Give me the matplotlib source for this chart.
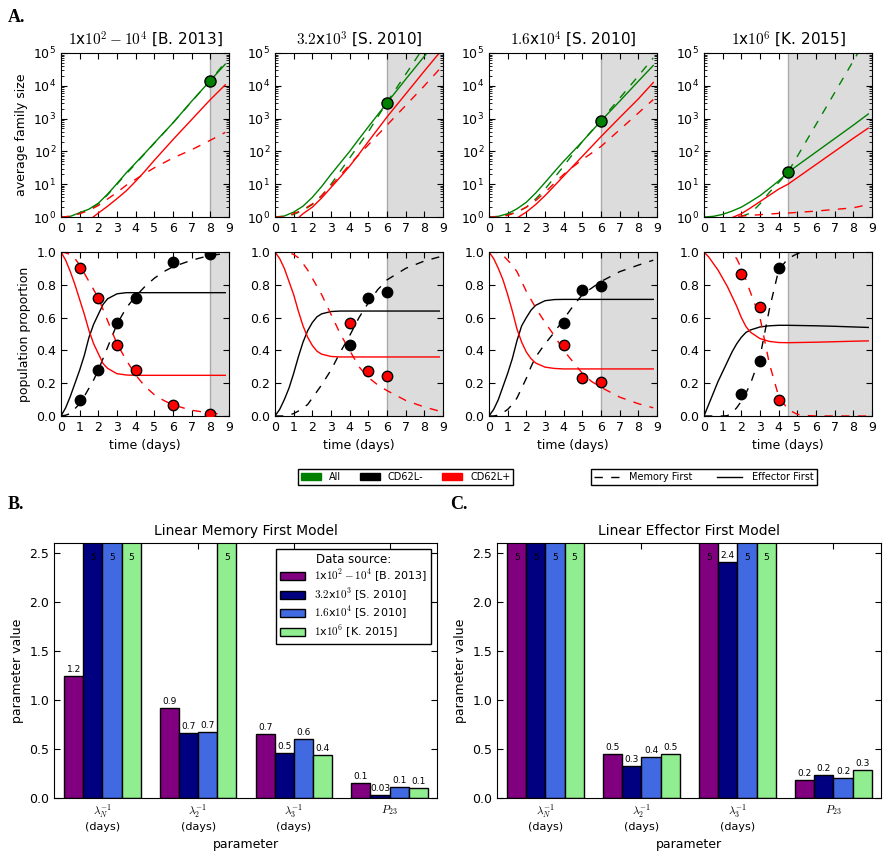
import numpy as np
import matplotlib
matplotlib.use('Agg')
import matplotlib.pyplot as plt
from matplotlib.patches import Patch
from matplotlib.lines import Line2D
from matplotlib.ticker import LogLocator

plt.rcParams.update({
    'font.size': 9,
    'mathtext.fontset': 'cm',
    'xtick.direction': 'in', 'ytick.direction': 'in',
    'xtick.top': True, 'ytick.right': True,
    'xtick.major.size': 4, 'ytick.major.size': 4,
    'xtick.minor.size': 2, 'ytick.minor.size': 2,
    'xtick.labelsize': 9, 'ytick.labelsize': 9,
    'legend.fancybox': False, 'legend.edgecolor': 'black', 'legend.framealpha': 1,
})

sources = [r'$1$x$10^2-10^4$ [B. 2013]', r'$3.2$x$10^3$ [S. 2010]',
           r'$1.6$x$10^4$ [S. 2010]', r'$1$x$10^6$ [K. 2015]']
shade_from = [8, 6, 6, 4.5]

# top row: log10 of average family size
t_top = [0, 0.5, 1, 1.5, 2, 2.5, 3, 3.5, 4, 4.5, 5, 6, 7, 8, 8.8]
all_eff = [
    [0, 0.02, 0.13, 0.24, 0.42, 0.7, 1.02, 1.35, 1.65, 1.95, 2.26, 2.87, 3.53, 4.16, 4.66],
    [0, 0.03, 0.15, 0.33, 0.6, 0.93, 1.3, 1.65, 2.0, 2.38, 2.75, 3.48, 4.2, 4.9, 5.5],
    [0, 0.02, 0.1, 0.25, 0.45, 0.73, 1.05, 1.38, 1.7, 2.0, 2.3, 2.93, 3.53, 4.14, 4.62],
    [0, 0.02, 0.08, 0.18, 0.3, 0.47, 0.65, 0.87, 1.1, 1.36, 1.57, 1.98, 2.39, 2.8, 3.14],
]
all_mem = [
    [0, 0.01, 0.12, 0.22, 0.4, 0.68, 1.0, 1.32, 1.62, 1.94, 2.25, 2.87, 3.52, 4.16, 4.72],
    [0, 0, 0.08, 0.2, 0.38, 0.65, 1.0, 1.4, 1.8, 2.2, 2.6, 3.5, 4.35, 5.2, 5.9],
    [0, 0, 0.07, 0.15, 0.3, 0.55, 0.85, 1.2, 1.55, 1.93, 2.3, 2.95, 3.62, 4.3, 4.85],
    [-1, -0.8, -0.5, -0.2, 0.02, 0.12, 0.4, 0.75, 1.05, 1.37, 1.85, 2.82, 3.79, 4.76, 5.54],
]
plus_eff = [
    [-1, -0.8, -0.55, -0.1, 0.12, 0.33, 0.56, 0.8, 1.09, 1.4, 1.73, 2.36, 2.97, 3.58, 4.03],
    [-1, -0.6, -0.15, 0.1, 0.3, 0.58, 0.9, 1.22, 1.55, 1.92, 2.3, 3.05, 3.75, 4.45, 5.0],
    [-1, -0.7, -0.3, -0.03, 0.15, 0.38, 0.65, 0.95, 1.25, 1.55, 1.85, 2.45, 3.03, 3.6, 4.1],
    [-1, -0.6, -0.3, -0.02, 0.1, 0.28, 0.47, 0.66, 0.85, 1.0, 1.2, 1.6, 2.0, 2.4, 2.71],
]
plus_mem = [
    [0, 0.02, 0.1, 0.2, 0.35, 0.55, 0.75, 0.97, 1.15, 1.33, 1.5, 1.8, 2.05, 2.34, 2.58],
    [0, 0, 0.1, 0.22, 0.4, 0.65, 0.95, 1.27, 1.6, 1.9, 2.2, 2.8, 3.4, 4.0, 4.5],
    [0, 0, 0.05, 0.15, 0.3, 0.5, 0.75, 1.03, 1.3, 1.53, 1.75, 2.15, 2.66, 3.17, 3.58],
    [-1, -0.5, -0.2, 0.0, 0.03, 0.05, 0.07, 0.09, 0.11, 0.12, 0.14, 0.18, 0.23, 0.28, 0.38],
]
fit_day = [8, 6, 6, 4.5]
fit_size = [14500, 3000, 850, 23]

# bottom row: population proportions
t_bot = [0, 0.25, 0.5, 0.75, 1, 1.25, 1.5, 1.75, 2, 2.25, 2.5, 3, 3.5, 4, 4.5, 5, 5.5, 6, 7, 8, 8.8]
minus_eff = [
    [0, 0.05, 0.12, 0.2, 0.28, 0.37, 0.48, 0.56, 0.62, 0.68, 0.715, 0.745, 0.752, 0.752, 0.752,
     0.752, 0.752, 0.752, 0.752, 0.752, 0.752],
    [0, 0.04, 0.1, 0.17, 0.26, 0.36, 0.45, 0.52, 0.57, 0.605, 0.623, 0.637, 0.64, 0.64, 0.64,
     0.64, 0.64, 0.64, 0.64, 0.64, 0.64],
    [0, 0.04, 0.1, 0.18, 0.26, 0.35, 0.46, 0.55, 0.6, 0.645, 0.675, 0.703, 0.71, 0.711, 0.711,
     0.711, 0.711, 0.711, 0.711, 0.711, 0.711],
    [0, 0.07, 0.14, 0.21, 0.27, 0.33, 0.39, 0.44, 0.48, 0.51, 0.525, 0.543, 0.55, 0.553, 0.553,
     0.552, 0.551, 0.55, 0.547, 0.543, 0.54],
]
pos_eff = [
    [1, 0.95, 0.88, 0.8, 0.71, 0.62, 0.52, 0.44, 0.38, 0.32, 0.29, 0.258, 0.25, 0.248, 0.248,
     0.248, 0.248, 0.248, 0.248, 0.248, 0.248],
    [1, 0.96, 0.9, 0.82, 0.74, 0.64, 0.55, 0.48, 0.43, 0.395, 0.377, 0.363, 0.36, 0.36, 0.36,
     0.36, 0.36, 0.36, 0.36, 0.36, 0.36],
    [1, 0.96, 0.9, 0.83, 0.74, 0.64, 0.53, 0.45, 0.39, 0.35, 0.323, 0.298, 0.29, 0.287, 0.287,
     0.287, 0.287, 0.287, 0.287, 0.287, 0.287],
    [1, 0.97, 0.93, 0.89, 0.84, 0.79, 0.73, 0.67, 0.6, 0.545, 0.51, 0.472, 0.455, 0.448, 0.447,
     0.448, 0.449, 0.45, 0.453, 0.456, 0.458],
]
minus_mem = [
    [0, 0.005, 0.015, 0.045, 0.075, 0.12, 0.17, 0.22, 0.28, 0.35, 0.42, 0.56, 0.66, 0.73, 0.79,
     0.84, 0.88, 0.91, 0.95, 0.98, 0.99],
    [0, 0, 0, 0.005, 0.015, 0.03, 0.05, 0.07, 0.11, 0.15, 0.19, 0.28, 0.39, 0.49, 0.6,
     0.69, 0.77, 0.83, 0.9, 0.945, 0.97],
    [0, 0, 0.005, 0.02, 0.04, 0.07, 0.11, 0.17, 0.23, 0.3, 0.36, 0.44, 0.51, 0.59, 0.67,
     0.74, 0.78, 0.82, 0.88, 0.92, 0.95],
    [0, 0, 0, 0, 0, 0.002, 0.02, 0.05, 0.09, 0.14, 0.2, 0.36, 0.65, 0.89, 0.96,
     0.99, 1.0, 1.0, 1.0, 1.0, 1.0],
]
pos_mem = [
    [1, 0.995, 0.985, 0.96, 0.92, 0.87, 0.82, 0.77, 0.72, 0.65, 0.58, 0.44, 0.34, 0.25, 0.18,
     0.13, 0.095, 0.067, 0.035, 0.018, 0.01],
    [1, 1, 1, 0.995, 0.985, 0.965, 0.93, 0.89, 0.84, 0.79, 0.74, 0.62, 0.5, 0.4, 0.3,
     0.235, 0.19, 0.155, 0.095, 0.055, 0.03],
    [1, 1, 0.995, 0.98, 0.95, 0.92, 0.88, 0.82, 0.76, 0.71, 0.66, 0.57, 0.49, 0.4, 0.33,
     0.26, 0.21, 0.175, 0.115, 0.075, 0.05],
    [1, 1, 1, 1, 1, 0.998, 0.99, 0.96, 0.9, 0.83, 0.75, 0.6, 0.32, 0.12, 0.04,
     0.01, 0.003, 0, 0, 0, 0],
]
obs_day = [[1, 2, 3, 4, 6, 8], [4, 5, 6], [4, 5, 6], [2, 3, 4]]
obs_minus = [[0.095, 0.28, 0.57, 0.72, 0.94, 0.99], [0.43, 0.72, 0.755],
             [0.57, 0.77, 0.79], [0.135, 0.335, 0.905]]
obs_plus = [[0.905, 0.72, 0.43, 0.28, 0.065, 0.01], [0.57, 0.275, 0.245],
            [0.43, 0.23, 0.21], [0.865, 0.665, 0.095]]

# fitted parameters (panels B and C)
param_names = [r'$\lambda_N^{-1}$' + '\n(days)', r'$\lambda_2^{-1}$' + '\n(days)',
               r'$\lambda_3^{-1}$' + '\n(days)', r'$P_{23}$']
bar_colors = ['purple', 'navy', 'royalblue', 'lightgreen']
mem_values = [[1.24, 0.92, 0.65, 0.15], [5, 0.66, 0.46, 0.03],
              [5, 0.67, 0.60, 0.11], [5, 5, 0.44, 0.10]]
mem_text = [['1.2', '0.9', '0.7', '0.1'], ['5', '0.7', '0.5', '0.03'],
            ['5', '0.7', '0.6', '0.1'], ['5', '5', '0.4', '0.1']]
eff_values = [[5, 0.45, 5, 0.18], [5, 0.33, 2.41, 0.23],
              [5, 0.42, 5, 0.20], [5, 0.45, 5, 0.29]]
eff_text = [['5', '0.5', '5', '0.2'], ['5', '0.3', '2.4', '0.2'],
            ['5', '0.4', '5', '0.2'], ['5', '0.5', '5', '0.3']]

W, H = 888, 852
fig = plt.figure(figsize=(W / 100, H / 100), dpi=100)


def box(x0, y0, x1, y1):
    return [x0 / W, 1 - y1 / H, (x1 - x0) / W, (y1 - y0) / H]


dash = (0, (6, 6))
col_left = [61, 275, 489, 704]

for k in range(4):
    # top row: family size
    ax = fig.add_axes(box(col_left[k], 53, col_left[k] + 168, 217))
    ax.axvspan(shade_from[k], 9, color='#dcdcdc', lw=0, zorder=0)
    ax.axvline(shade_from[k], color='#aaaaaa', lw=1, zorder=1)
    ax.plot(t_top, 10 ** np.array(all_eff[k]), color='green', lw=1)
    ax.plot(t_top, 10 ** np.array(all_mem[k]), color='green', lw=1, ls=dash)
    ax.plot(t_top, 10 ** np.array(plus_eff[k]), color='red', lw=1)
    ax.plot(t_top, 10 ** np.array(plus_mem[k]), color='red', lw=1, ls=dash)
    ax.plot(fit_day[k], fit_size[k], 'o', color='green', mec='black', ms=8, zorder=5)
    ax.set_yscale('log')
    ax.set_ylim(1, 1e5)
    ax.yaxis.set_minor_locator(LogLocator(base=10, subs=np.arange(2, 10), numticks=50))
    ax.set_xlim(0, 9)
    ax.set_xticks(range(10))
    ax.set_title(sources[k], fontsize=11)
    if k == 0:
        ax.set_ylabel('average family size')

    # bottom row: proportions
    ax = fig.add_axes(box(col_left[k], 252, col_left[k] + 168, 416))
    ax.axvspan(shade_from[k], 9, color='#dcdcdc', lw=0, zorder=0)
    ax.axvline(shade_from[k], color='#aaaaaa', lw=1, zorder=1)
    ax.plot(t_bot, minus_eff[k], color='black', lw=1)
    ax.plot(t_bot, minus_mem[k], color='black', lw=1, ls=dash)
    ax.plot(t_bot, pos_eff[k], color='red', lw=1)
    ax.plot(t_bot, pos_mem[k], color='red', lw=1, ls=dash)
    ax.plot(obs_day[k], obs_minus[k], 'o', color='black', mec='black', ms=7.5, zorder=5)
    ax.plot(obs_day[k], obs_plus[k], 'o', color='red', mec='black', ms=7.5, zorder=5)
    ax.set_xlim(0, 9)
    ax.set_ylim(0, 1)
    ax.set_xticks(range(10))
    ax.set_xlabel('time (days)')
    if k == 0:
        ax.set_ylabel('population proportion')

# figure legends
pop_handles = [Patch(color='green'), Patch(color='black'), Patch(color='red')]
fig.legend(pop_handles, ['All', 'CD62L-', 'CD62L+'], ncol=3, fontsize=7,
           loc='center', bbox_to_anchor=(405.5 / W, 1 - 477 / H),
           handlelength=2.1, handleheight=0.7, handletextpad=0.8,
           columnspacing=1.9, borderpad=0.3)
model_handles = [Line2D([], [], color='black', lw=1, ls=dash),
                 Line2D([], [], color='black', lw=1)]
fig.legend(model_handles, ['Memory First', 'Effector First'], ncol=2, fontsize=7,
           loc='center', bbox_to_anchor=(704 / W, 1 - 477 / H),
           handlelength=2.6, handletextpad=1.0, columnspacing=2.5, borderpad=0.3)


def bar_panel(rect, values, texts, title, show_legend):
    ax = fig.add_axes(rect)
    for j in range(4):
        xs = np.arange(4) + 0.1 + 0.2 * j
        ax.bar(xs, values[j], width=0.2, color=bar_colors[j], edgecolor='black',
               lw=1, label=sources[j])
        for x, v, s in zip(xs, values[j], texts[j]):
            if v > 2.6:
                ax.text(x, 2.45, s, ha='center', va='center', fontsize=6.5)
            else:
                ax.text(x, v + 0.02, s, ha='center', va='bottom', fontsize=6.5)
    ax.set_xlim(-0.105, 3.895)
    ax.set_ylim(0, 2.6)
    ax.set_xticks(np.arange(4) + 0.4)
    ax.set_xticklabels(param_names, fontsize=8)
    ax.set_xlabel('parameter')
    ax.set_ylabel('parameter value')
    ax.set_title(title, fontsize=10)
    if show_legend:
        leg = ax.legend(loc='upper right', title='Data source:', fontsize=8,
                        handlelength=2.2, handletextpad=0.8, labelspacing=0.18,
                        borderpad=0.4)
        leg.get_title().set_fontsize(8.5)
    return ax


bar_panel(box(54, 543, 437, 798), mem_values, mem_text, 'Linear Memory First Model', True)
bar_panel(box(497, 543, 881, 798), eff_values, eff_text, 'Linear Effector First Model', False)

letter = dict(fontsize=13, fontweight='bold', family='Liberation Serif', va='center')
fig.text(8 / W, 1 - 18 / H, 'A.', **letter)
fig.text(8 / W, 1 - 505 / H, 'B.', **letter)
fig.text(450 / W, 1 - 505 / H, 'C.', **letter)

fig.savefig('out.png', dpi=100, facecolor='white')
